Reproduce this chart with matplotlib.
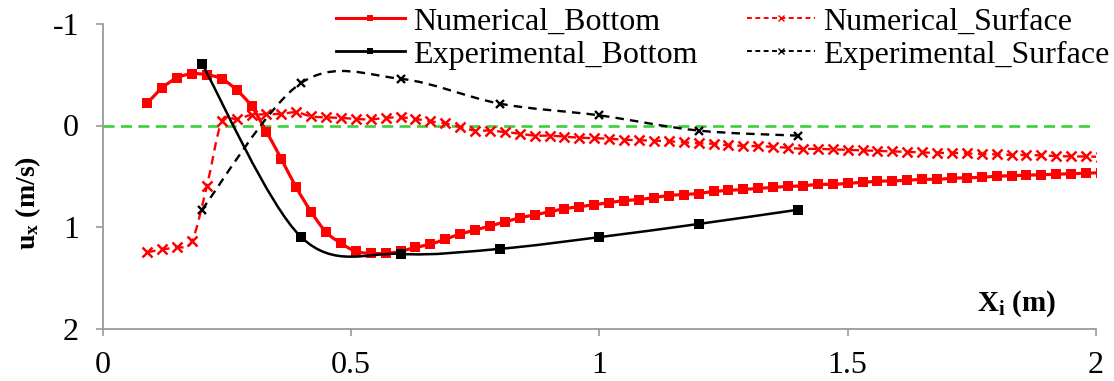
import numpy as np
import matplotlib
matplotlib.use("Agg")
import matplotlib.pyplot as plt
from matplotlib.path import Path
from matplotlib.patches import PathPatch
from matplotlib.lines import Line2D

plt.rcParams["font.family"] = ["Liberation Serif", "DejaVu Serif"]
plt.rcParams["mathtext.fontset"] = "custom"
plt.rcParams["mathtext.rm"] = "Liberation Serif"
plt.rcParams["mathtext.bf"] = "Liberation Serif:bold"
plt.rcParams["mathtext.it"] = "Liberation Serif:italic"
plt.rcParams["axes.unicode_minus"] = False

# ---- data -------------------------------------------------------------
num_x = [0.09, 0.12, 0.15, 0.18, 0.21, 0.24, 0.27, 0.30, 0.33, 0.36,
         0.39, 0.42, 0.45, 0.48, 0.51, 0.54, 0.57, 0.60, 0.63, 0.66,
         0.69, 0.72, 0.75, 0.78, 0.81, 0.84, 0.87, 0.90, 0.93, 0.96,
         0.99, 1.02, 1.05, 1.08, 1.11, 1.14, 1.17, 1.20, 1.23, 1.26,
         1.29, 1.32, 1.35, 1.38, 1.41, 1.44, 1.47, 1.50, 1.53, 1.56,
         1.59, 1.62, 1.65, 1.68, 1.71, 1.74, 1.77, 1.80, 1.83, 1.86,
         1.89, 1.92, 1.95, 1.98, 2.01]

num_bottom = [-0.22, -0.37, -0.47, -0.51, -0.50, -0.46, -0.35, -0.19, 0.06, 0.33,
              0.61, 0.85, 1.05, 1.16, 1.24, 1.26, 1.26, 1.24, 1.20, 1.17,
              1.12, 1.07, 1.03, 0.99, 0.95, 0.91, 0.88, 0.85, 0.82, 0.80,
              0.78, 0.76, 0.74, 0.73, 0.71, 0.69, 0.68, 0.67, 0.65, 0.64,
              0.63, 0.62, 0.61, 0.60, 0.595, 0.58, 0.58, 0.57, 0.56, 0.55,
              0.545, 0.54, 0.53, 0.53, 0.52, 0.515, 0.51, 0.50, 0.495, 0.49,
              0.485, 0.48, 0.475, 0.47, 0.465]

num_surface = [1.25, 1.22, 1.20, 1.14, 0.60, -0.04, -0.06, -0.105, -0.11, -0.115,
               -0.13, -0.09, -0.08, -0.075, -0.065, -0.06, -0.075, -0.08, -0.065, -0.04,
               -0.02, 0.015, 0.05, 0.05, 0.065, 0.08, 0.10, 0.10, 0.11, 0.12,
               0.125, 0.13, 0.14, 0.145, 0.15, 0.155, 0.165, 0.175, 0.18, 0.195,
               0.20, 0.205, 0.21, 0.22, 0.23, 0.23, 0.235, 0.24, 0.245, 0.25,
               0.255, 0.26, 0.265, 0.27, 0.27, 0.275, 0.28, 0.285, 0.29, 0.29,
               0.295, 0.30, 0.305, 0.305, 0.31]

exp_x = [0.2, 0.4, 0.6, 0.8, 1.0, 1.2, 1.4]
exp_bottom = [-0.61, 1.10, 1.265, 1.215, 1.10, 0.97, 0.83]
exp_surface = [0.83, -0.42, -0.46, -0.215, -0.10, 0.05, 0.10]

zero_x = [0.0, 2.0]
zero_y = [0.0, 0.0]

x_ticks = [0, 0.5, 1, 1.5, 2]
x_tick_labels = ["0", "0.5", "1", "1.5", "2"]
y_ticks = [-1, 0, 1, 2]
y_tick_labels = ["-1", "0", "1", "2"]

labels = ["Numerical_Bottom", "Numerical_Surface",
          "Experimental_Bottom", "Experimental_Surface"]

RED = "#ff0000"
BLACK = "#000000"
GREEN = "#3ccf3c"
GRAY = "#9a9a9a"


def smooth_path(xs, ys):
    """Cubic Bezier path through the points (Catmull-Rom style smoothing)."""
    pts = np.column_stack([xs, ys]).astype(float)
    n = len(pts)
    verts = [pts[0]]
    codes = [Path.MOVETO]
    for i in range(n - 1):
        p0 = pts[i - 1] if i > 0 else pts[i]
        p1 = pts[i]
        p2 = pts[i + 1]
        p3 = pts[i + 2] if i + 2 < n else pts[i + 1]
        c1 = p1 + (p2 - p0) / 6.0
        c2 = p2 - (p3 - p1) / 6.0
        verts += [c1, c2, p2]
        codes += [Path.CURVE4] * 3
    return Path(verts, codes)


fig = plt.figure(figsize=(11.14, 3.81), dpi=100)
ax = fig.add_axes([102.5 / 1114, 1 - 328.5 / 381, (1096 - 102.5) / 1114, (328.5 - 24) / 381])

ax.plot(zero_x, zero_y, color=GREEN, lw=1.9, linestyle=(0, (4.2, 2.4)), zorder=1)

# numerical curves
ax.add_patch(PathPatch(smooth_path(num_x, num_surface), fill=False, edgecolor=RED,
                       lw=1.7, linestyle=(0, (3.6, 2.4)), zorder=2))
ax.plot(num_x, num_surface, linestyle="none", marker="x", ms=6.5, mew=1.8,
        color=RED, zorder=3)
ax.add_patch(PathPatch(smooth_path(num_x, num_bottom), fill=False, edgecolor=RED,
                       lw=2.3, zorder=4))
ax.plot(num_x, num_bottom, linestyle="none", marker="s", ms=7.0, mew=0,
        color=RED, zorder=5)

# experimental curves
ax.add_patch(PathPatch(smooth_path(exp_x, exp_surface), fill=False, edgecolor=BLACK,
                       lw=1.7, linestyle=(0, (3.6, 2.6)), zorder=6))
ax.plot(exp_x, exp_surface, linestyle="none", marker="x", ms=6.3, mew=1.7,
        color=BLACK, zorder=7)
ax.add_patch(PathPatch(smooth_path(exp_x, exp_bottom), fill=False, edgecolor=BLACK,
                       lw=1.8, zorder=8))
ax.plot(exp_x, exp_bottom, linestyle="none", marker="s", ms=6.5, mew=0,
        color=BLACK, zorder=9)

ax.set_xlim(0, 2)
ax.set_ylim(2, -1)
ax.set_xticks(x_ticks)
ax.set_xticklabels(x_tick_labels)
ax.set_yticks(y_ticks)
ax.set_yticklabels(y_tick_labels)
ax.tick_params(axis="both", direction="out", length=5, width=1.2, color=GRAY,
               labelsize=23)
ax.tick_params(axis="x", pad=11)
ax.tick_params(axis="y", pad=12)
for side in ("top", "right"):
    ax.spines[side].set_visible(False)
for side in ("left", "bottom"):
    ax.spines[side].set_color(GRAY)
    ax.spines[side].set_linewidth(1.3)

fig.text(28 / 1114, 1 - 203 / 381, r"$\mathbf{u_x}$" + " (m/s)", rotation=90,
         ha="center", va="center", fontsize=20, fontweight="bold")
fig.text(1017 / 1114, 1 - 304 / 381, r"$\mathbf{X_i}$" + " (m)",
         ha="center", va="center", fontsize=21, fontweight="bold")

h_num_bottom = Line2D([], [], color=RED, lw=2.2, marker="s", ms=5, mew=0)
h_num_surface = Line2D([], [], color=RED, lw=1.4, linestyle=(0, (2.5, 1.8)),
                       marker="x", ms=4, mew=1.0)
h_exp_bottom = Line2D([], [], color=BLACK, lw=2.0, marker="s", ms=5, mew=0)
h_exp_surface = Line2D([], [], color=BLACK, lw=1.4, linestyle=(0, (2.5, 1.8)),
                       marker="x", ms=4, mew=1.0)

# legend fills column-wise: first column holds the two bottom series
fig.legend([h_num_bottom, h_exp_bottom, h_num_surface, h_exp_surface],
           [labels[0], labels[2], labels[1], labels[3]],
           ncol=2, loc="upper left",
           bbox_to_anchor=(336 / 1114, 1 - 7 / 381), frameon=False,
           fontsize=23, borderpad=0, borderaxespad=0, handlelength=2.15,
           handletextpad=0.25, columnspacing=1.55, labelspacing=0.12)

fig.savefig("out.png", dpi=100)
